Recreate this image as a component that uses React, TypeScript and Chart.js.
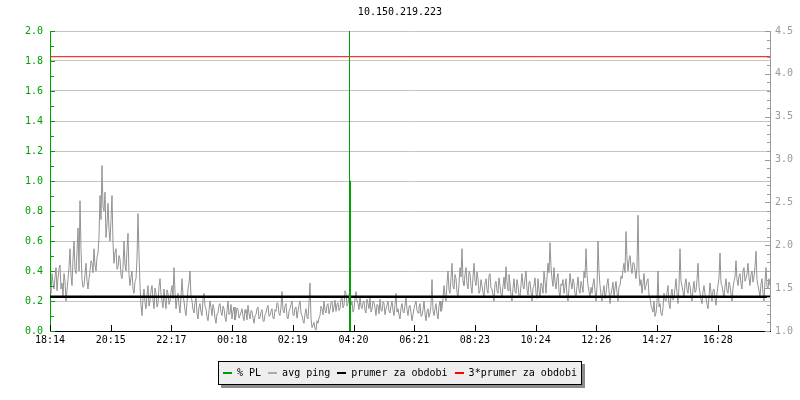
import React, { useEffect, useRef } from "react";
import { Chart, registerables } from "chart.js";

Chart.register(...registerables);

const chartTitle = "10.150.219.223";

// x tick labels (one every ~121 minutes starting 18:14)
const xTickLabels = ["18:14", "20:15", "22:17", "00:18", "02:19", "04:20", "06:21", "08:23", "10:24", "12:26", "14:27", "16:28"];
const TICK_STEP_MIN = 121.4;
const RANGE_MIN = 1440;

// avg ping in ms (right axis), one sample every 2 minutes
const SAMPLE_MIN = 2;
const pingValues = [
  1.53, 1.44, 1.67, 1.56, 1.49, 1.63, 1.74, 1.47, 1.61, 1.72, 1.77, 1.49, 1.56, 1.40, 1.67, 1.58, 1.35, 1.47,
  1.61, 1.75, 1.96, 1.65, 1.53, 1.84, 2.05, 1.72, 1.67, 1.93, 2.2, 1.70, 2.52, 1.95, 1.6, 1.51,
  1.53, 1.66, 1.79, 1.58, 1.49, 1.61, 1.7, 1.82, 1.79, 1.68, 1.96, 1.77, 1.7, 1.86, 1.91, 2.10,
  2.58, 2.30, 2.93, 2.45, 2.4, 2.62, 2.09, 2.25, 2.49, 2.18, 2.05, 2.30, 2.58, 2.02,
  1.79, 1.92, 1.96, 1.72, 1.74, 1.88, 1.84, 1.65, 1.61, 1.74, 2.05, 1.78, 1.7, 1.95, 2.14, 1.66,
  1.53, 1.63, 1.7, 1.49, 1.44, 1.58, 1.61, 1.85, 2.37, 1.90, 1.53, 1.30,
  1.18, 1.38, 1.49, 1.33, 1.26, 1.42, 1.53, 1.29, 1.35, 1.47, 1.53, 1.37, 1.26, 1.50, 1.44, 1.28, 1.32, 1.52,
  1.61, 1.43, 1.35, 1.27, 1.49, 1.36, 1.26, 1.48, 1.44, 1.31, 1.35, 1.46, 1.53, 1.38, 1.74, 1.45,
  1.26, 1.37, 1.44, 1.30, 1.21, 1.40, 1.61, 1.42, 1.35, 1.24, 1.18, 1.33, 1.49, 1.56, 1.7, 1.40,
  1.35, 1.25, 1.21, 1.33, 1.39, 1.20, 1.14, 1.28, 1.32, 1.22, 1.18, 1.37, 1.44, 1.29, 1.26, 1.16,
  1.12, 1.24, 1.35, 1.27, 1.18, 1.31, 1.26, 1.15, 1.09, 1.20, 1.21, 1.30,
  1.32, 1.22, 1.18, 1.29, 1.26, 1.16, 1.11, 1.24, 1.35, 1.19, 1.21, 1.31, 1.14, 1.23, 1.28, 1.13, 1.18, 1.27, 1.25, 1.15,
  1.18, 1.22, 1.26, 1.17, 1.12, 1.25, 1.21, 1.13, 1.3, 1.20, 1.14, 1.24, 1.23, 1.15, 1.09, 1.18, 1.19, 1.26, 1.28, 1.14,
  1.16, 1.22, 1.25, 1.12, 1.11, 1.19, 1.21, 1.27, 1.3, 1.17, 1.18, 1.23, 1.26, 1.15, 1.14, 1.25, 1.23, 1.33, 1.32, 1.20,
  1.18, 1.28, 1.46, 1.24, 1.21, 1.29, 1.32, 1.17, 1.14, 1.23, 1.26, 1.31, 1.35, 1.19, 1.18, 1.27, 1.28, 1.15,
  1.23, 1.30, 1.35, 1.21, 1.18, 1.12, 1.09, 1.20, 1.26, 1.16, 1.14, 1.33, 1.56, 1.15,
  1.04, 1.07, 1.1, 1.03, 1.01, 1.12, 1.09, 1.15, 1.18, 1.29,
  1.26, 1.19, 1.35, 1.24, 1.21, 1.30, 1.32, 1.20, 1.25, 1.33, 1.35, 1.22, 1.28, 1.36, 1.23, 1.31,
  1.33, 1.24, 1.26, 1.37, 1.39, 1.27, 1.3, 1.47,
  1.44, 1.29, 1.32, 1.41, 1.49, 1.30, 1.35, 1.22, 1.26, 1.38, 1.46, 1.34, 1.32, 1.25, 1.39, 1.29,
  1.26, 1.33, 1.35, 1.24, 1.21, 1.37, 1.32, 1.26, 1.39, 1.22, 1.25, 1.35, 1.33, 1.27, 1.18, 1.31,
  1.3, 1.20, 1.37, 1.24, 1.23, 1.34, 1.32, 1.19, 1.26, 1.30, 1.35, 1.23, 1.21, 1.29,
  1.35, 1.24, 1.18, 1.31, 1.44, 1.22, 1.26, 1.19, 1.14, 1.27, 1.32, 1.23, 1.21, 1.30, 1.39, 1.25,
  1.18, 1.28, 1.3, 1.21, 1.12, 1.19, 1.26, 1.31, 1.35, 1.24, 1.21, 1.28, 1.32, 1.17,
  1.18, 1.25, 1.35, 1.20, 1.12, 1.23, 1.26, 1.16, 1.21, 1.30, 1.6, 1.24,
  1.18, 1.26, 1.32, 1.20, 1.14, 1.29, 1.35, 1.23, 1.26, 1.38,
  1.53, 1.42, 1.35, 1.56, 1.7, 1.48, 1.44, 1.62, 1.79, 1.52, 1.49, 1.66, 1.61, 1.45, 1.39, 1.55, 1.74, 1.63, 1.96, 1.58,
  1.53, 1.66, 1.74, 1.55, 1.49, 1.70, 1.67, 1.52, 1.44, 1.63, 1.79, 1.58, 1.53, 1.69, 1.61, 1.44, 1.47, 1.60,
  1.53, 1.45, 1.39, 1.57, 1.61, 1.48, 1.44, 1.65, 1.67, 1.50, 1.49, 1.42, 1.35, 1.55, 1.58, 1.47, 1.44, 1.62,
  1.53, 1.43, 1.39, 1.52, 1.63, 1.49, 1.75, 1.58, 1.47, 1.66, 1.56, 1.42,
  1.35, 1.50, 1.61, 1.46, 1.44, 1.60, 1.53, 1.41, 1.39, 1.54, 1.67, 1.52, 1.49, 1.61, 1.7, 1.48,
  1.42, 1.57, 1.58, 1.45, 1.35, 1.50, 1.53, 1.62, 1.44, 1.38, 1.61, 1.47, 1.39, 1.56,
  1.53, 1.44, 1.7, 1.58, 1.44, 1.63, 1.79, 1.68, 2.03, 1.75, 1.61, 1.52, 1.74, 1.57, 1.49, 1.62, 1.67, 1.46, 1.39, 1.55,
  1.53, 1.60, 1.44, 1.52, 1.61, 1.41, 1.35, 1.50, 1.67, 1.56, 1.49, 1.61, 1.56, 1.43, 1.39, 1.52,
  1.63, 1.48, 1.44, 1.58, 1.53, 1.45, 1.7, 1.62, 1.96, 1.66, 1.53, 1.46, 1.39, 1.51,
  1.44, 1.55, 1.61, 1.47, 1.35, 1.52, 2.05, 1.70, 1.53, 1.42,
  1.35, 1.46, 1.53, 1.38, 1.44, 1.55, 1.61, 1.47, 1.32, 1.43, 1.49, 1.57, 1.39, 1.50, 1.58, 1.45, 1.35, 1.52, 1.53, 1.64,
  1.61, 1.72, 1.79, 1.68, 2.16, 1.85, 1.7, 1.83, 1.88, 1.74, 1.67, 1.80, 1.79, 1.70, 1.61, 1.76, 2.35, 1.66, 1.53, 1.60,
  1.44, 1.55, 1.67, 1.48, 1.53, 1.58, 1.61, 1.42, 1.39, 1.30,
  1.26, 1.22, 1.35, 1.17, 1.21, 1.33, 1.7, 1.28, 1.32, 1.20, 1.18, 1.27, 1.44, 1.36,
  1.35, 1.45, 1.53, 1.31, 1.26, 1.42, 1.49, 1.36, 1.39, 1.50, 1.61, 1.44, 1.32, 1.52, 1.96, 1.58,
  1.53, 1.46, 1.39, 1.55, 1.61, 1.48, 1.44, 1.57, 1.53, 1.41, 1.35, 1.49, 1.58, 1.45, 1.47, 1.60, 1.79, 1.52,
  1.44, 1.37, 1.32, 1.46, 1.53, 1.43, 1.39, 1.31, 1.26, 1.40, 1.56, 1.45, 1.35, 1.47, 1.49, 1.38, 1.3, 1.44, 1.53, 1.62,
  1.91, 1.56, 1.53, 1.45, 1.39, 1.52, 1.61, 1.47, 1.44, 1.57, 1.53, 1.43, 1.35, 1.50, 1.58, 1.63, 1.82, 1.60,
  1.53, 1.64, 1.67, 1.55, 1.49, 1.70, 1.74, 1.58, 1.61, 1.67, 1.79, 1.62, 1.53, 1.66, 1.7, 1.57, 1.63, 1.75, 1.93, 1.60,
  1.53, 1.47, 1.39, 1.55, 1.61, 1.44, 1.35, 1.58, 1.74, 1.52, 1.49, 1.61, 1.53,
];

// packet loss % (left axis): time in minutes from start, value
const plTimes = [0, 599, 599, 599, 601, 601, 1440];
const plValues = [0, 0, 3, 1, 1, 0, 0];

const avgPing = 1.4;
const tripleAvgPing = 4.2;

const legendLabels = ["% PL", "avg ping", "prumer za obdobi", "3*prumer za obdobi"];
const legendColors = ["#00a000", "#aaaaaa", "#000000", "#ff0000"];

const GREEN = "#00a000";
const GRAY_AXIS = "#999999";
const FONT = "'DejaVu Sans Mono', monospace";

const tickMarksPlugin = {
  id: "tickMarks",
  afterDraw(chart: any) {
    const { ctx, chartArea: a, scales } = chart;
    ctx.save();
    ctx.lineWidth = 1;
    ctx.strokeStyle = GREEN;
    const ys = scales.y;
    for (let k = 0; k <= 20; k++) {
      const py = Math.round(ys.getPixelForValue(k / 10)) + 0.5;
      const len = k % 2 === 0 ? 5 : 4;
      ctx.beginPath();
      ctx.moveTo(a.left, py);
      ctx.lineTo(a.left + len, py);
      ctx.stroke();
    }
    ctx.strokeStyle = GRAY_AXIS;
    const y2 = scales.y2;
    for (let k = 10; k <= 45; k++) {
      const py = Math.round(y2.getPixelForValue(k / 10)) + 0.5;
      const len = k % 5 === 0 ? 5 : 3;
      ctx.beginPath();
      ctx.moveTo(a.right, py);
      ctx.lineTo(a.right - len, py);
      ctx.stroke();
    }
    ctx.strokeStyle = "#000";
    const xs = scales.x;
    xs.ticks.forEach((t: any) => {
      const px = Math.round(xs.getPixelForValue(t.value)) + 0.5;
      ctx.beginPath();
      ctx.moveTo(px, a.bottom);
      ctx.lineTo(px, a.bottom - 6);
      ctx.stroke();
    });
    ctx.restore();
  },
};

export default function App() {
  const ref = useRef<HTMLCanvasElement>(null);

  useEffect(() => {
    if (!ref.current) return;
    const pingData = pingValues.map((v, i) => ({ x: i * SAMPLE_MIN, y: v }));
    const plData = plTimes.map((t, i) => ({ x: t, y: plValues[i] }));
    const chart = new Chart(ref.current, {
      type: "line",
      data: {
        datasets: [
          {
            label: legendLabels[0],
            data: plData,
            yAxisID: "y",
            borderColor: legendColors[0],
            borderWidth: 1,
            pointRadius: 0,
            order: 0,
            segment: {
              // zero-loss stretches sit on the x axis and are hidden by it
              borderColor: (c: any) =>
                c.p0.parsed.y === 0 && c.p1.parsed.y === 0 ? "rgba(0,0,0,0)" : legendColors[0],
            },
          },
          {
            label: legendLabels[3],
            data: [
              { x: 0, y: tripleAvgPing },
              { x: RANGE_MIN, y: tripleAvgPing },
            ],
            yAxisID: "y2",
            borderColor: legendColors[3],
            borderWidth: 1,
            pointRadius: 0,
            order: 1,
          },
          {
            label: legendLabels[2],
            data: [
              { x: 0, y: avgPing },
              { x: RANGE_MIN, y: avgPing },
            ],
            yAxisID: "y2",
            borderColor: legendColors[2],
            borderWidth: 2.5,
            pointRadius: 0,
            order: 2,
          },
          {
            label: legendLabels[1],
            data: pingData,
            yAxisID: "y2",
            borderColor: "#929292",
            borderWidth: 1,
            pointRadius: 0,
            order: 3,
          },
        ],
      },
      options: {
        responsive: false,
        animation: false,
        events: [],
        layout: { padding: 0 },
        plugins: {
          legend: { display: false },
          tooltip: { enabled: false },
          title: {
            display: true,
            text: chartTitle,
            color: "#000",
            font: { family: FONT, size: 10, weight: "normal" },
            padding: { top: 6, bottom: 13 },
          },
        },
        scales: {
          x: {
            type: "linear",
            min: 0,
            max: RANGE_MIN,
            afterBuildTicks: (scale: any) => {
              scale.ticks = xTickLabels.map((_, k) => ({ value: k * TICK_STEP_MIN }));
            },
            afterFit: (scale: any) => {
              scale.height = 69;
            },
            ticks: {
              autoSkip: false,
              maxRotation: 0,
              padding: 3,
              color: "#000",
              font: { family: FONT, size: 10 },
              callback: (_v: any, index: number) => xTickLabels[index],
            },
            grid: { drawOnChartArea: false, drawTicks: false },
            border: { color: "#000", width: 1, z: 1 },
          },
          y: {
            position: "left",
            min: 0,
            max: 2,
            afterFit: (scale: any) => {
              scale.width = 50;
            },
            ticks: {
              stepSize: 0.2,
              padding: 7,
              color: GREEN,
              font: { family: FONT, size: 10 },
              callback: (v: any) => Number(v).toFixed(1),
            },
            grid: { color: "#c4c4c4", drawTicks: false },
            border: { color: GREEN, width: 1 },
          },
          y2: {
            position: "right",
            min: 1,
            max: 4.5,
            afterFit: (scale: any) => {
              scale.width = 30;
            },
            ticks: {
              stepSize: 0.5,
              padding: 5,
              color: GRAY_AXIS,
              font: { family: FONT, size: 10 },
              callback: (v: any) => Number(v).toFixed(1),
            },
            grid: { drawOnChartArea: false, drawTicks: false },
            border: { color: GRAY_AXIS, width: 1 },
          },
        },
      },
      plugins: [tickMarksPlugin],
    } as any);
    return () => chart.destroy();
  }, []);

  return (
    <div style={{ position: "fixed", left: 0, top: 0, width: 800, height: 400, background: "#fff" }}>
      <canvas ref={ref} width={800} height={400} style={{ display: "block" }} />
      <div style={{ position: "absolute", left: 0, top: 361, width: 800, textAlign: "center" }}>
        <div
          style={{
            display: "inline-block",
            border: "1px solid #000",
            background: "#eeeeee",
            boxShadow: "3px 3px 0 #8c8c8c",
            padding: "5px 4px",
            font: `10px ${FONT}`,
            lineHeight: "12px",
            whiteSpace: "nowrap",
            color: "#000",
          }}
        >
          {legendLabels.map((label, i) => (
            <span key={label} style={{ display: "inline-block", marginRight: i === legendLabels.length - 1 ? 0 : 7 }}>
              <span
                style={{
                  display: "inline-block",
                  width: 9,
                  height: 2,
                  background: legendColors[i],
                  verticalAlign: "middle",
                  marginRight: 5,
                }}
              />
              {label}
            </span>
          ))}
        </div>
      </div>
    </div>
  );
}
